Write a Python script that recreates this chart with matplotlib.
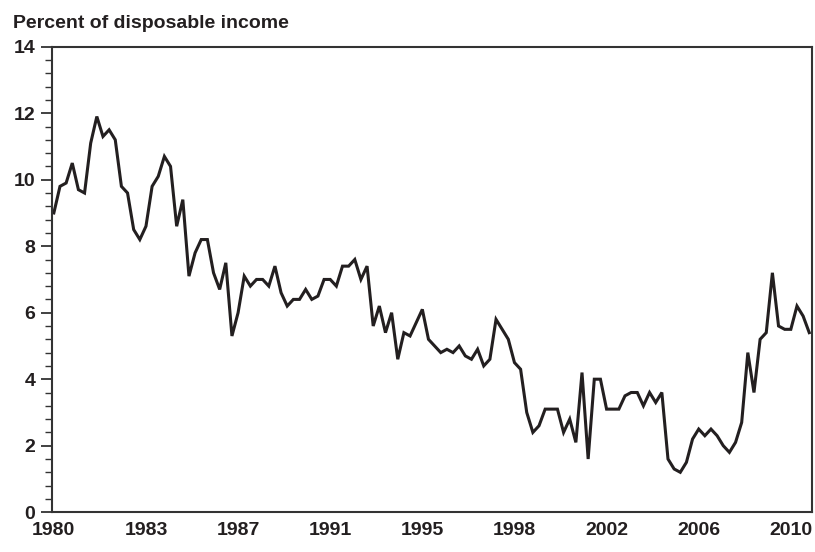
import numpy as np
import matplotlib
matplotlib.use("Agg")
import matplotlib.pyplot as plt
from matplotlib.ticker import MultipleLocator, FixedLocator

# Personal saving rate, quarterly, 1980Q1 - 2010Q4
years = list(range(1980, 2011))
saving_rate = [
    9.0, 9.8, 9.9, 10.5,     # 1980
    9.7, 9.6, 11.1, 11.9,    # 1981
    11.3, 11.5, 11.2, 9.8,   # 1982
    9.6, 8.5, 8.2, 8.6,      # 1983
    9.8, 10.1, 10.7, 10.4,   # 1984
    8.6, 9.4, 7.1, 7.8,      # 1985
    8.2, 8.2, 7.2, 6.7,      # 1986
    7.5, 5.3, 6.0, 7.1,      # 1987
    6.8, 7.0, 7.0, 6.8,      # 1988
    7.4, 6.6, 6.2, 6.4,      # 1989
    6.4, 6.7, 6.4, 6.5,      # 1990
    7.0, 7.0, 6.8, 7.4,      # 1991
    7.4, 7.6, 7.0, 7.4,      # 1992
    5.6, 6.2, 5.4, 6.0,      # 1993
    4.6, 5.4, 5.3, 5.7,      # 1994
    6.1, 5.2, 5.0, 4.8,      # 1995
    4.9, 4.8, 5.0, 4.7,      # 1996
    4.6, 4.9, 4.4, 4.6,      # 1997
    5.8, 5.5, 5.2, 4.5,      # 1998
    4.3, 3.0, 2.4, 2.6,      # 1999
    3.1, 3.1, 3.1, 2.4,      # 2000
    2.8, 2.1, 4.2, 1.6,      # 2001
    4.0, 4.0, 3.1, 3.1,      # 2002
    3.1, 3.5, 3.6, 3.6,      # 2003
    3.2, 3.6, 3.3, 3.6,      # 2004
    1.6, 1.3, 1.2, 1.5,      # 2005
    2.2, 2.5, 2.3, 2.5,      # 2006
    2.3, 2.0, 1.8, 2.1,      # 2007
    2.7, 4.8, 3.6, 5.2,      # 2008
    5.4, 7.2, 5.6, 5.5,      # 2009
    5.5, 6.2, 5.9, 5.4,      # 2010
]

# a label every 15 quarters, starting at 1980Q1
label_step = 15
label_years = ["1980", "1983", "1987", "1991", "1995", "1998", "2002", "2006", "2010"]

plt.rcParams['font.family'] = ['Liberation Sans', 'DejaVu Sans']

W, H = 815, 552
fig = plt.figure(figsize=(W / 100, H / 100), dpi=100)
ax = fig.add_axes([52 / W, 1 - 512.2 / H, 759.7 / W, (512.2 - 46.7) / H])

quarter_idx = np.arange(len(saving_rate))
ax.plot(quarter_idx, saving_rate, color='#231f20', linewidth=2.2, solid_joinstyle='miter')

ax.set_xlim(-0.3, 123.4)
ax.set_ylim(0, 14)

ax.xaxis.set_major_locator(FixedLocator(quarter_idx[::label_step]))
ax.set_xticklabels(label_years)
ax.yaxis.set_major_locator(MultipleLocator(2))
ax.yaxis.set_minor_locator(MultipleLocator(0.4))

ax.tick_params(axis='x', length=0, pad=7, labelsize=14)
ax.tick_params(axis='y', which='major', length=8, width=1.3, pad=4, labelsize=14, color='#333333')
ax.tick_params(axis='y', which='minor', length=5, width=1.0, color='#333333')
for lab in ax.get_xticklabels() + ax.get_yticklabels():
    lab.set_fontweight('bold')
    lab.set_color('#231f20')

for side in ['left', 'right', 'top', 'bottom']:
    ax.spines[side].set_linewidth(1.5)
    ax.spines[side].set_color('#333333')

fig.text(13 / W, 1 - 28 / H, "Percent of disposable income", fontsize=14,
         fontweight='bold', color='#231f20', va='baseline', ha='left')

fig.savefig("out.png", dpi=100)
